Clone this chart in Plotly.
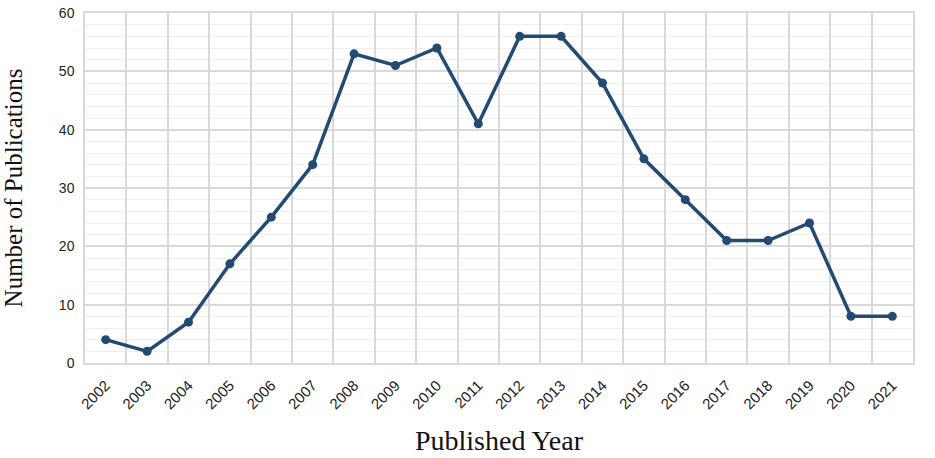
import plotly.graph_objects as go

years = ["2002", "2003", "2004", "2005", "2006", "2007", "2008", "2009", "2010", "2011",
         "2012", "2013", "2014", "2015", "2016", "2017", "2018", "2019", "2020", "2021"]
publications = [4, 2, 7, 17, 25, 34, 53, 51, 54, 41, 56, 56, 48, 35, 28, 21, 21, 24, 8, 8]
y_ticks = [0, 10, 20, 30, 40, 50, 60]

fig = go.Figure()
fig.add_trace(go.Scatter(
    x=years, y=publications, mode="lines+markers",
    line=dict(color="#234a73", width=3.5),
    marker=dict(color="#234a73", size=9),
    showlegend=False,
))

fig.update_layout(
    width=935, height=458,
    margin=dict(l=85, r=22, t=13, b=95),
    paper_bgcolor="white", plot_bgcolor="white",
    xaxis=dict(
        type="category", range=[-0.5, 19.5], tickson="boundaries",
        showgrid=True, gridcolor="#d9d9d9", gridwidth=1.5,
        showline=True, linecolor="#d9d9d9", linewidth=1.5, mirror=True,
        ticks="", tickangle=-45, automargin=False, ticklabelstandoff=6,
        tickfont=dict(family="Liberation Sans, Arial", size=15, color="#222"),
        title=dict(text="Published Year", standoff=19,
                   font=dict(family="Liberation Serif, Times New Roman", size=28, color="#111")),
    ),
    yaxis=dict(
        range=[0, 60], tickvals=y_ticks, automargin=False,
        showgrid=True, gridcolor="#d9d9d9", gridwidth=1.5,
        minor=dict(dtick=2, showgrid=True, gridcolor="#efefef", gridwidth=1),
        showline=True, linecolor="#d9d9d9", linewidth=1.5, mirror=True,
        zeroline=False, ticks="", ticklabelstandoff=6,
        tickfont=dict(family="Liberation Sans, Arial", size=14, color="#222"),
        title=dict(text="Number of Publications", standoff=29,
                   font=dict(family="Liberation Serif, Times New Roman", size=25, color="#111")),
    ),
)

fig.write_html("out.html", config={"displayModeBar": False},
               post_script="document.body.style.margin='0px';")
